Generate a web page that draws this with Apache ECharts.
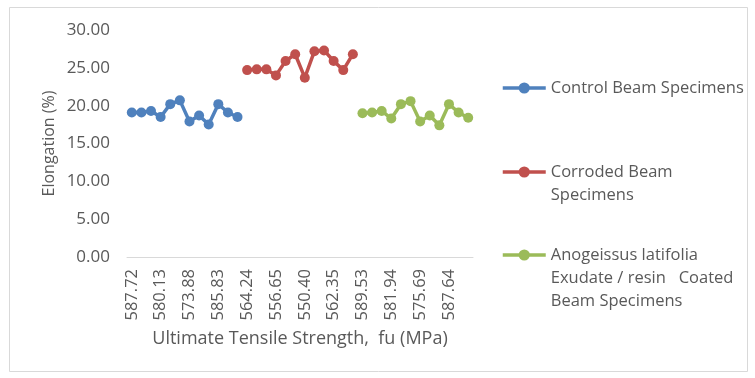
<!DOCTYPE html>
<html>
<head>
<meta charset="utf-8">
<script src="https://cdn.jsdelivr.net/npm/echarts@6/dist/echarts.min.js"></script>
<style>
html,body{margin:0;padding:0;background:#fff;}
#chart{width:755px;height:378px;}
</style>
</head>
<body>
<div id="chart"></div>
<script>
// Category labels (only every third label is readable in the reference)
const categories = [
  '587.72','','','580.13','','','573.88','','','585.83','','',
  '564.24','','','556.65','','','550.40','','','562.35','','',
  '589.53','','','581.94','','','575.69','','','587.64','',''
];
const controlValues = [19.1, 19.1, 19.3, 18.5, 20.2, 20.7, 17.9, 18.7, 17.5, 20.2, 19.1, 18.5];
const corrodedValues = [24.7, 24.8, 24.8, 24.0, 25.9, 26.8, 23.7, 27.2, 27.3, 25.9, 24.7, 26.8];
const coatedValues = [19.0, 19.1, 19.3, 18.3, 20.2, 20.6, 17.9, 18.7, 17.4, 20.2, 19.1, 18.4];
const seriesNames = ['Control Beam Specimens', 'Corroded Beam Specimens', 'Anogeissus latifolia Exudate / resin  Coated Beam Specimens'];
const legendLabels = [
  ['Control Beam Specimens'],
  ['Corroded Beam', 'Specimens'],
  ['Anogeissus latifolia', 'Exudate / resin   Coated', 'Beam Specimens']
];
const yTicks = [0, 30, 5];

function place(values, offset) {
  const arr = categories.map(() => null);
  values.forEach((v, i) => { arr[offset + i] = v; });
  return arr;
}

const colors = ['#4F81BD', '#C0504D', '#9BBB59'];
const font = '"Open Sans", "Noto Sans", sans-serif';
const txt = '#595959';
const LH = 23;

function mkLegend(i, iconCenterY) {
  const lines = legendLabels[i];
  const n = lines.length;
  // prepend blank lines so the first text line is centred on the icon
  const text = '\n'.repeat(n - 1) + lines.join('\n');
  return {
    data: [seriesNames[i]],
    left: 501, top: iconCenterY - (2 * n - 1) * LH / 2, padding: 0,
    orient: 'vertical',
    itemWidth: 43, itemHeight: 14,
    formatter: () => text,
    selectedMode: false,
    lineStyle: {width: 3.5},
    textStyle: {color: txt, fontFamily: font, fontSize: 16.5, lineHeight: LH}
  };
}

const chart = echarts.init(document.getElementById('chart'), null, {renderer: 'canvas'});
chart.setOption({
  animation: false,
  backgroundColor: '#fff',
  color: colors,
  graphic: [{
    type: 'rect', shape: {x: 9.5, y: 7.5, width: 738, height: 364},
    style: {fill: 'none', stroke: '#d9d9d9', lineWidth: 1}, silent: true, z: -10
  }],
  legend: [mkLegend(0, 88), mkLegend(1, 172), mkLegend(2, 255)],
  grid: {left: 127, right: 282, top: 30, bottom: 121, containLabel: false},
  xAxis: {
    type: 'category', data: categories, boundaryGap: true,
    name: 'Ultimate Tensile Strength,  fu (MPa)', nameLocation: 'middle', nameGap: 73,
    nameTextStyle: {color: txt, fontFamily: font, fontSize: 18},
    axisLine: {lineStyle: {color: '#d9d9d9', width: 1}},
    axisTick: {show: false},
    axisLabel: {interval: 2, rotate: 90, color: txt, fontFamily: font, fontSize: 16.5, margin: 12}
  },
  yAxis: {
    type: 'value', min: yTicks[0], max: yTicks[1], interval: yTicks[2],
    name: 'Elongation (%)', nameLocation: 'middle', nameGap: 70,
    nameTextStyle: {color: txt, fontFamily: font, fontSize: 16},
    axisLine: {show: false}, axisTick: {show: false},
    splitLine: {show: false},
    axisLabel: {formatter: v => v.toFixed(2), color: txt, fontFamily: font, fontSize: 17, margin: 17}
  },
  series: [
    {name: seriesNames[0], type: 'line', data: place(controlValues, 0)},
    {name: seriesNames[1], type: 'line', data: place(corrodedValues, 12)},
    {name: seriesNames[2], type: 'line', data: place(coatedValues, 24)}
  ].map(s => Object.assign(s, {
    symbol: 'circle', symbolSize: 10, showSymbol: true, showAllSymbol: true,
    lineStyle: {width: 3.5}, connectNulls: false
  }))
});
</script>
</body>
</html>
